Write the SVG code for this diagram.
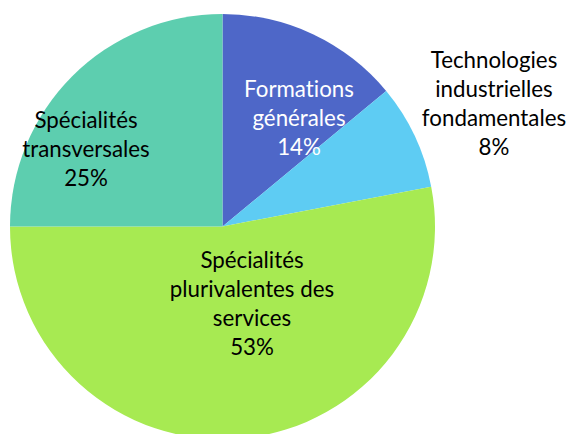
<svg xmlns="http://www.w3.org/2000/svg" width="570" height="434" viewBox="0 0 570 434">
<style>
text{font-family:Lato,"Noto Sans","Liberation Sans",sans-serif;font-size:22.3px;text-anchor:middle;fill:#000;font-variant-ligatures:none;font-feature-settings:"liga" 0}
.w{fill:#fff}
</style>
<rect width="570" height="434" fill="#fff"/>
<g id="slice-formations">
<path d="M222.5,226.5 L222.5,14 A212.5,212.5 0 0 1 386.2,91 Z" fill="#4E67C8"/>
</g>
<g id="slice-technologies">
<path d="M222.5,226.5 L386.2,91 A212.5,212.5 0 0 1 431.2,186.7 Z" fill="#5ECCF3"/>
</g>
<g id="slice-plurivalentes">
<path d="M222.5,226.5 L431.2,186.7 A212.5,212.5 0 1 1 10,226.5 Z" fill="#A7EA52"/>
</g>
<g id="slice-transversales">
<path d="M222.5,226.5 L10,226.5 A212.5,212.5 0 0 1 222.5,14 Z" fill="#5DCEAF"/>
</g>
<g id="labels">
<text class="w" x="299" y="97">Formations</text>
<text class="w" x="299" y="126">générales</text>
<text class="w" x="299" y="155">14%</text>
<text x="494" y="68">Technologies</text>
<text x="494" y="97">industrielles</text>
<text x="494" y="126">fondamentales</text>
<text x="494" y="155">8%</text>
<text x="86" y="128">Spécialités</text>
<text x="86" y="157">transversales</text>
<text x="86" y="186">25%</text>
<text x="252" y="268">Spécialités</text>
<text x="252" y="297">plurivalentes des</text>
<text x="252" y="326">services</text>
<text x="252" y="355">53%</text>
</g>
</svg>
